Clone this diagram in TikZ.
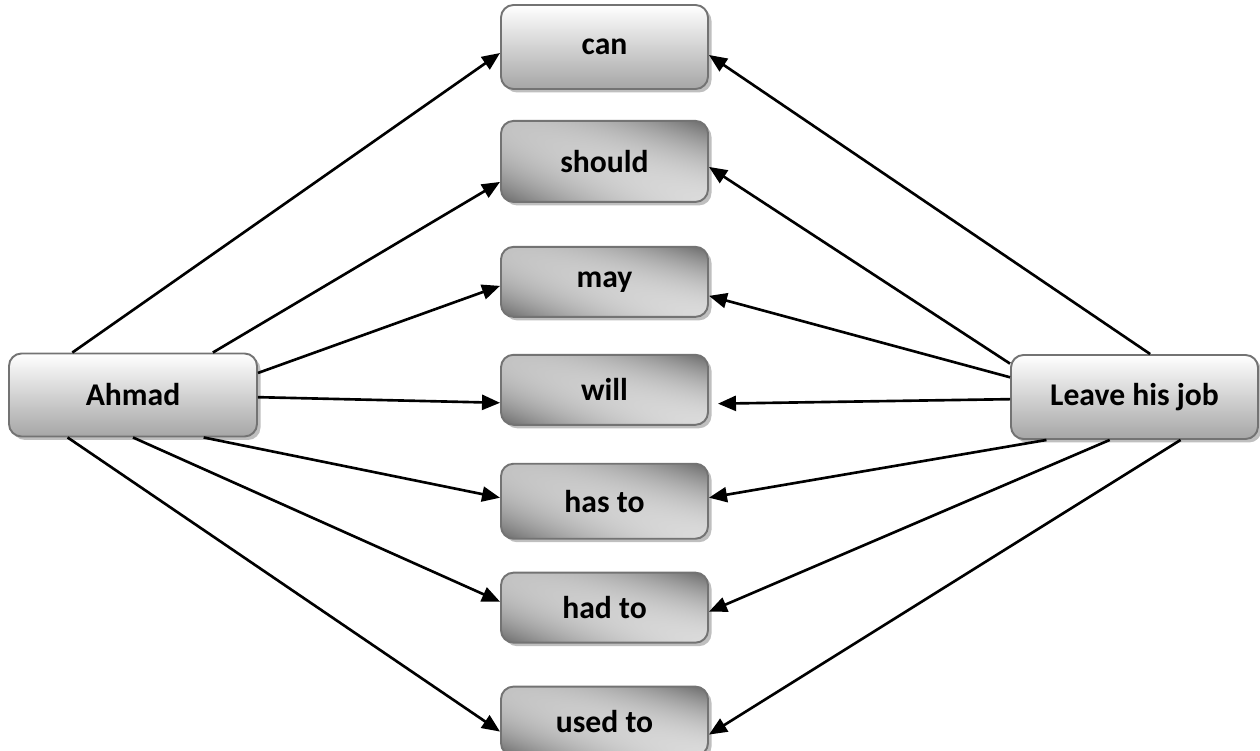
\documentclass[tikz,border=0pt]{standalone}
\usepackage{fontspec}
\setmainfont{Carlito}
\usetikzlibrary{positioning,shadows,arrows.meta}

% dark at two opposite corners, light across the other diagonal
\pgfdeclarefunctionalshading{metal}{\pgfpoint{-50bp}{-50bp}}{\pgfpoint{50bp}{50bp}}{}{
  2 copy add 50 div dup mul 0.40 mul
  3 1 roll exch sub 50 div 0.05 mul
  add 0.81 exch sub
  dup dup
}

\begin{document}
\begin{tikzpicture}[
    box/.style={draw=black!55, line width=1.1pt, rounded corners=0.25cm,
      font=\fontsize{18}{22}\selectfont\bfseries,
      drop shadow={shadow xshift=0.07cm, shadow yshift=-0.07cm, fill=black!25, opacity=1}},
    plainbox/.style={box, top color=white, bottom color=black!35},
    metalbox/.style={box, shading=metal, minimum width=4.14cm, minimum height=#1cm},
    link/.style={-{Triangle[length=0.36cm,width=0.3cm]}, line width=1.5pt}
  ]
  \useasboundingbox (0,0) rectangle (25.2,-15.02);

  % subject and verb phrase
  \node[plainbox, minimum width=4.96cm, minimum height=1.66cm] (ahmad) at (2.66,-7.9) {Ahmad};
  \node[plainbox, minimum width=4.94cm, minimum height=1.68cm] (job) at (22.69,-7.94) {Leave his job};

  % modals
  \node[plainbox, minimum width=4.14cm, minimum height=1.68cm] (can) at (12.09,-0.94) {can};
  \node[metalbox=1.62, below=0.6cm of can] (should) {should};
  \node[metalbox=1.4, below=0.86cm of should] (may) {may};
  \node[metalbox=1.4, below=0.72cm of may] (will) {will};
  \node[metalbox=1.5, below=0.74cm of will] (hasto) {has to};
  \node[metalbox=1.4, below=0.64cm of hasto] (hadto) {had to};
  \node[metalbox=1.38, below=0.84cm of hadto] (usedto) {used to};

  \draw[link] (ahmad.145) -- ([yshift=-0.12cm]can.west);
  \draw[link] (ahmad.28) -- ([yshift=-0.41cm]should.west);
  \draw[link] (ahmad.10) -- ([yshift=-0.08cm]may.west);
  \draw[link] (ahmad.359) -- ([yshift=-0.26cm]will.west);
  \draw[link] (ahmad.329) -- ([yshift=0.07cm]hasto.west);
  \draw[link] (ahmad.270) -- ([yshift=0.12cm]hadto.west);
  \draw[link] (ahmad.213) -- ([yshift=-0.21cm]usedto.west);

  \draw[link] (job.70) -- ([yshift=-0.16cm]can.east);
  \draw[link] (job.165) -- ([yshift=-0.11cm]should.east);
  \draw[link] (job.171) -- ([yshift=-0.28cm]may.east);
  \draw[link, shorten >=0.18cm] (job.181) -- ([yshift=-0.28cm]will.east);
  \draw[link] (job.206) -- ([yshift=0.07cm]hasto.east);
  \draw[link] (job.240) -- ([yshift=-0.08cm]hadto.east);
  \draw[link] (job.317) -- ([yshift=-0.27cm]usedto.east);
\end{tikzpicture}
\end{document}
